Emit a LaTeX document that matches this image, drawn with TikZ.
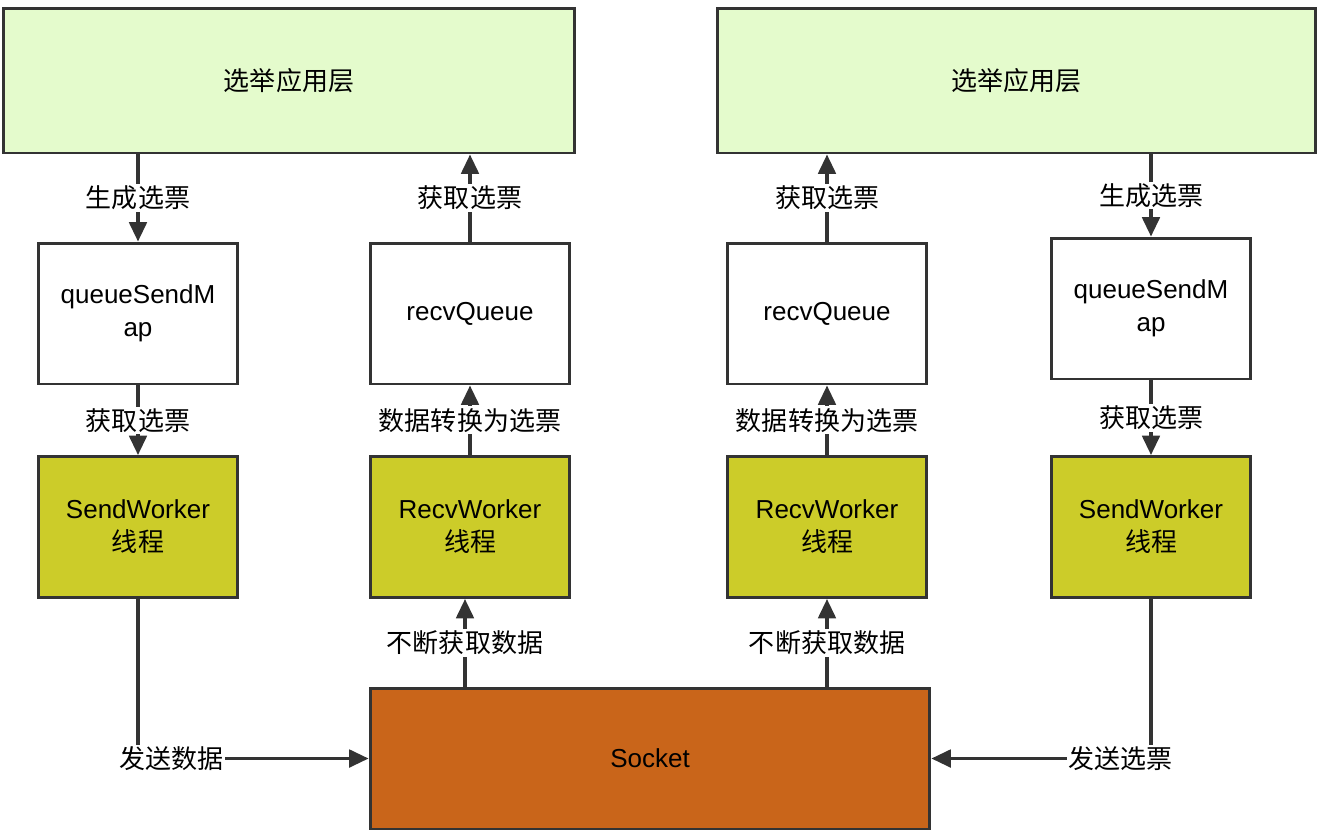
\documentclass[tikz,border=0pt]{standalone}
\usepackage{fontspec}
\setmainfont{Liberation Sans}
\newfontfamily\cjk{Noto Sans CJK SC}
\usetikzlibrary{arrows.meta, positioning, calc}
\definecolor{appgreen}{HTML}{E4FBCC}
\definecolor{workyellow}{HTML}{CCCC29}
\definecolor{sockorange}{HTML}{C9651A}
\definecolor{linegray}{HTML}{333333}
\tikzset{%
    box/.style={draw=linegray, line width=1.7pt, rectangle, align=center,
        minimum width=4cm, minimum height=2.82cm, font=\fontsize{14.8}{18.7}\selectfont},
    appbox/.style={box, fill=appgreen, minimum height=2.9cm},
    queuebox/.style={box, fill=white},
    workerbox/.style={box, fill=workyellow},
    sockbox/.style={box, fill=sockorange, minimum width=11.2cm},
    flow/.style={draw=linegray, line width=1.8pt, -{Triangle[length=11pt, width=10pt]}},
    lbl/.style={fill=white, inner sep=1pt, font=\fontsize{14.8}{17}\selectfont\cjk},
}

\begin{document}
\begin{tikzpicture}[x=0.02cm, y=-0.02cm]
	\useasboundingbox (0,0) rectangle (1323,833);

	\node[appbox, minimum width=11.44cm](appL) at (289,80.5) {\cjk 选举应用层};
	\node[appbox, minimum width=11.98cm](appR) at (1016.5,80.5) {\cjk 选举应用层};

	\node[queuebox](qmapL) at (138,313.5) {queueSendM\\ap};
	\node[queuebox](rqL) at (470,313.5) {recvQueue};
	\node[queuebox](rqR) at (827,313.5) {recvQueue};
	\node[queuebox](qmapR) at (1151,308.5) {queueSendM\\ap};

	\node[workerbox](swL) at (138,527) {SendWorker\\{\cjk 线程}};
	\node[workerbox](rwL) at (470,527) {RecvWorker\\{\cjk 线程}};
	\node[workerbox](rwR) at (827,527) {RecvWorker\\{\cjk 线程}};
	\node[workerbox](swR) at (1151,527) {SendWorker\\{\cjk 线程}};

	\node[sockbox](sock) at (650,758.5) {Socket};

	% left side
	\draw[flow] (qmapL.north |- appL.south) to node[lbl] {生成选票} (qmapL.north);
	\draw[flow] (qmapL) to node[lbl] {获取选票} (swL);
	\draw[flow] (rqL) to node[lbl] {获取选票} (rqL.north |- appL.south);
	\draw[flow] (rwL) to node[lbl] {数据转换为选票} (rqL);
	\draw[flow] (sock.north -| 465,0) to node[lbl] {不断获取数据} (rwL.south -| 465,0);
	\draw[flow] (swL.south) |- node[lbl, pos=0.573] {发送数据} (sock.west);

	% right side
	\draw[flow] (qmapR.north |- appR.south) to node[lbl] {生成选票} (qmapR.north);
	\draw[flow] (qmapR) to node[lbl] {获取选票} (swR);
	\draw[flow] (rqR) to node[lbl] {获取选票} (rqR.north |- appR.south);
	\draw[flow] (rwR) to node[lbl] {数据转换为选票} (rqR);
	\draw[flow] (sock.north -| rwR) to node[lbl] {不断获取数据} (rwR.south);
	\draw[flow] (swR.south) |- node[lbl, pos=0.57] {发送选票} (sock.east);
\end{tikzpicture}
\end{document}
